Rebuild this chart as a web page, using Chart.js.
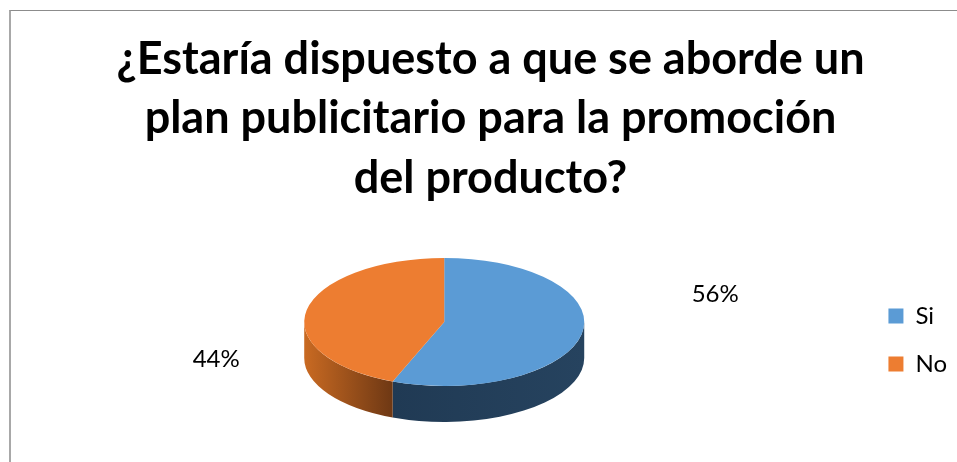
<!DOCTYPE html>
<html lang="es">
<head>
<meta charset="utf-8">
<title>Plan publicitario</title>
<script src="https://cdn.jsdelivr.net/npm/chart.js@4.4.1/dist/chart.umd.min.js"></script>
<style>
  html, body { margin: 0; padding: 0; background: #ffffff; }
  #wrap { position: relative; width: 957px; height: 462px; overflow: hidden; }
  #frame {
    position: absolute; left: 9px; top: 10px; width: 980px; height: 480px;
    border-top: 1px solid #8c8c8c; border-left: 2px solid #a8a8a8;
    pointer-events: none;
  }
  canvas { position: absolute; left: 0; top: 0; }
</style>
</head>
<body>
<div id="wrap">
  <canvas id="chart" width="957" height="462"></canvas>
  <div id="frame"></div>
</div>
<script>
// Survey answers
const categories = ['Si', 'No'];
const shares = [56, 44];
const titleLines = [
  '¿Estaría dispuesto a que se aborde un',
  'plan publicitario para la promoción',
  'del producto?'
];

// Styling
const faceColors = ['#5B9BD5', '#ED7D31'];
const labelOffsets = [[271, -28], [-228, 37]];

// Draws a tilted pie: side walls first, then the arcs squashed vertically.
const tiltedPie = {
  id: 'tiltedPie',
  beforeDatasetsDraw(chart, args, opts) {
    const ctx = chart.ctx;
    const arcs = chart.getDatasetMeta(0).data;
    if (!arcs.length) return;
    const { x, y, outerRadius: r } = arcs[0].getProps(['x', 'y', 'outerRadius'], true);
    const ry = r * opts.tilt;
    const cy = y - opts.depth / 2;
    const D = opts.depth;
    const TWO_PI = Math.PI * 2;

    ctx.save();
    arcs.forEach((arc, i) => {
      const { startAngle, endAngle } = arc.getProps(['startAngle', 'endAngle'], true);
      for (let k = -1; k <= 1; k++) {
        const lo = Math.max(startAngle, TWO_PI * k);
        const hi = Math.min(endAngle, TWO_PI * k + Math.PI);
        if (hi <= lo) continue;
        const xa = x + r * Math.cos(lo);
        const xb = x + r * Math.cos(hi);
        const g = ctx.createLinearGradient(Math.min(xa, xb), 0, Math.max(xa, xb), 0);
        const stops = opts.sideColors[i];
        g.addColorStop(0, stops[0]);
        g.addColorStop(1, stops[1]);
        ctx.beginPath();
        ctx.ellipse(x, cy, r, ry, 0, lo, hi);
        ctx.ellipse(x, cy + D, r, ry, 0, hi, lo, true);
        ctx.closePath();
        ctx.fillStyle = g;
        ctx.fill();
      }
    });
    ctx.restore();

    ctx.save();
    ctx.translate(x, cy);
    ctx.scale(1, opts.tilt);
    ctx.translate(-x, -y);
  },
  afterDatasetsDraw(chart, args, opts) {
    const ctx = chart.ctx;
    ctx.restore();
    const arcs = chart.getDatasetMeta(0).data;
    if (!arcs.length) return;
    const { x, y } = arcs[0].getProps(['x', 'y'], true);
    const cy = y - opts.depth / 2;
    ctx.save();
    ctx.font = '24px Lato';
    ctx.fillStyle = '#000000';
    ctx.textAlign = 'center';
    ctx.textBaseline = 'middle';
    const total = chart.data.datasets[0].data.reduce((a, b) => a + b, 0);
    arcs.forEach((arc, i) => {
      const v = chart.data.datasets[0].data[i];
      const pct = Math.round(v / total * 100) + '%';
      ctx.fillText(pct, x + labelOffsets[i][0], cy + labelOffsets[i][1]);
    });
    ctx.restore();
  }
};

Chart.defaults.font.family = 'Lato';
Chart.defaults.color = '#000000';

new Chart(document.getElementById('chart'), {
  type: 'pie',
  data: {
    labels: categories,
    datasets: [{
      data: shares,
      backgroundColor: faceColors,
      borderWidth: 0,
      radius: 140,
      clip: false
    }]
  },
  options: {
    responsive: false,
    animation: false,
    events: [],
    layout: { padding: { left: 24, right: 0, top: 0, bottom: 2 } },
    plugins: {
      title: {
        display: true,
        text: titleLines,
        color: '#000000',
        font: { family: 'Lato', size: 45, weight: 'bold', lineHeight: 1.333 },
        padding: { top: 29, bottom: 11 }
      },
      legend: {
        position: 'right',
        fullSize: false,
        labels: {
          boxWidth: 15,
          boxHeight: 15,
          padding: 24,
          color: '#000000',
          font: { family: 'Lato', size: 24 }
        }
      },
      tooltip: { enabled: false },
      tiltedPie: {
        tilt: 0.457,
        depth: 36,
        sideColors: [['#203A54', '#26435F'], ['#C96A22', '#6E3814']]
      }
    }
  },
  plugins: [tiltedPie]
});
</script>
</body>
</html>
